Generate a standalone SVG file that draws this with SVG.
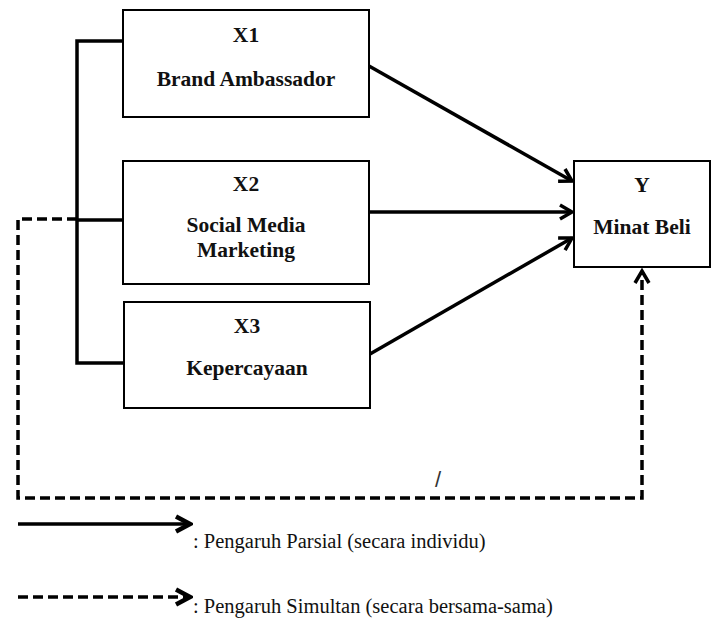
<svg xmlns="http://www.w3.org/2000/svg" width="712" height="622" viewBox="0 0 712 622">
<style>
.box{fill:#fff;stroke:#000;stroke-width:2}
.lbl{font-family:"Liberation Serif","Times New Roman",serif;font-weight:bold;font-size:21.5px;text-anchor:middle;fill:#111}
.leg{font-family:"Liberation Serif","Times New Roman",serif;font-size:20.5px;fill:#111}
.solid{fill:none;stroke:#000;stroke-width:3.5}
.dash{fill:none;stroke:#000;stroke-width:3.5;stroke-dasharray:10 5}
</style>
<defs>
<marker id="ah" viewBox="0 0 18 18" refX="15" refY="9" markerWidth="18" markerHeight="18" markerUnits="userSpaceOnUse" orient="auto">
<path d="M3,2 L15,9 L3,16" fill="none" stroke="#000" stroke-width="3.5"/>
</marker>
<marker id="ahL" viewBox="0 0 20 20" refX="17" refY="10" markerWidth="20" markerHeight="20" markerUnits="userSpaceOnUse" orient="auto">
<path d="M3,2.5 L17,10 L3,17.5" fill="none" stroke="#000" stroke-width="4.5"/>
</marker>
</defs>
<rect width="712" height="622" fill="#fff"/>
<g id="connectors">
<path class="solid" d="M123,41 H77 V363 H124 M77,220 H123"/>
<path class="dash" d="M77,219 H18 V498 H642 V271" marker-end="url(#ah)"/>
<line class="solid" x1="369" y1="66" x2="572" y2="181" marker-end="url(#ah)"/>
<line class="solid" x1="369" y1="212" x2="572" y2="212" marker-end="url(#ah)"/>
<line class="solid" x1="370" y1="354" x2="572" y2="238" marker-end="url(#ah)"/>
</g>
<g id="X1"><rect class="box" x="123" y="10" width="246" height="107"/><text class="lbl" x="246" y="42">X1</text><text class="lbl" x="246" y="86">Brand Ambassador</text></g>
<g id="X2"><rect class="box" x="123" y="161" width="246" height="123"/><text class="lbl" x="246" y="191">X2</text><text class="lbl" x="246" y="232">Social Media</text><text class="lbl" x="246" y="257">Marketing</text></g>
<g id="X3"><rect class="box" x="124" y="302" width="246" height="106"/><text class="lbl" x="247" y="333">X3</text><text class="lbl" x="247" y="375">Kepercayaan</text></g>
<g id="Y"><rect class="box" x="574" y="161" width="136" height="106"/><text class="lbl" x="642" y="192">Y</text><text class="lbl" x="642" y="234">Minat Beli</text></g>
<text x="435" y="487" style="font-family:'Liberation Sans',Arial,sans-serif;font-size:22px;fill:#333">/</text>
<g id="legend">
<line class="solid" x1="18" y1="524" x2="190" y2="524" stroke-width="4" marker-end="url(#ahL)"/>
<text class="leg" x="193" y="548">: Pengaruh Parsial (secara individu)</text>
<line class="dash" x1="18" y1="597" x2="190" y2="597" stroke-width="4" marker-end="url(#ahL)"/>
<text class="leg" x="193" y="613">: Pengaruh Simultan (secara bersama-sama)</text>
</g>
</svg>
